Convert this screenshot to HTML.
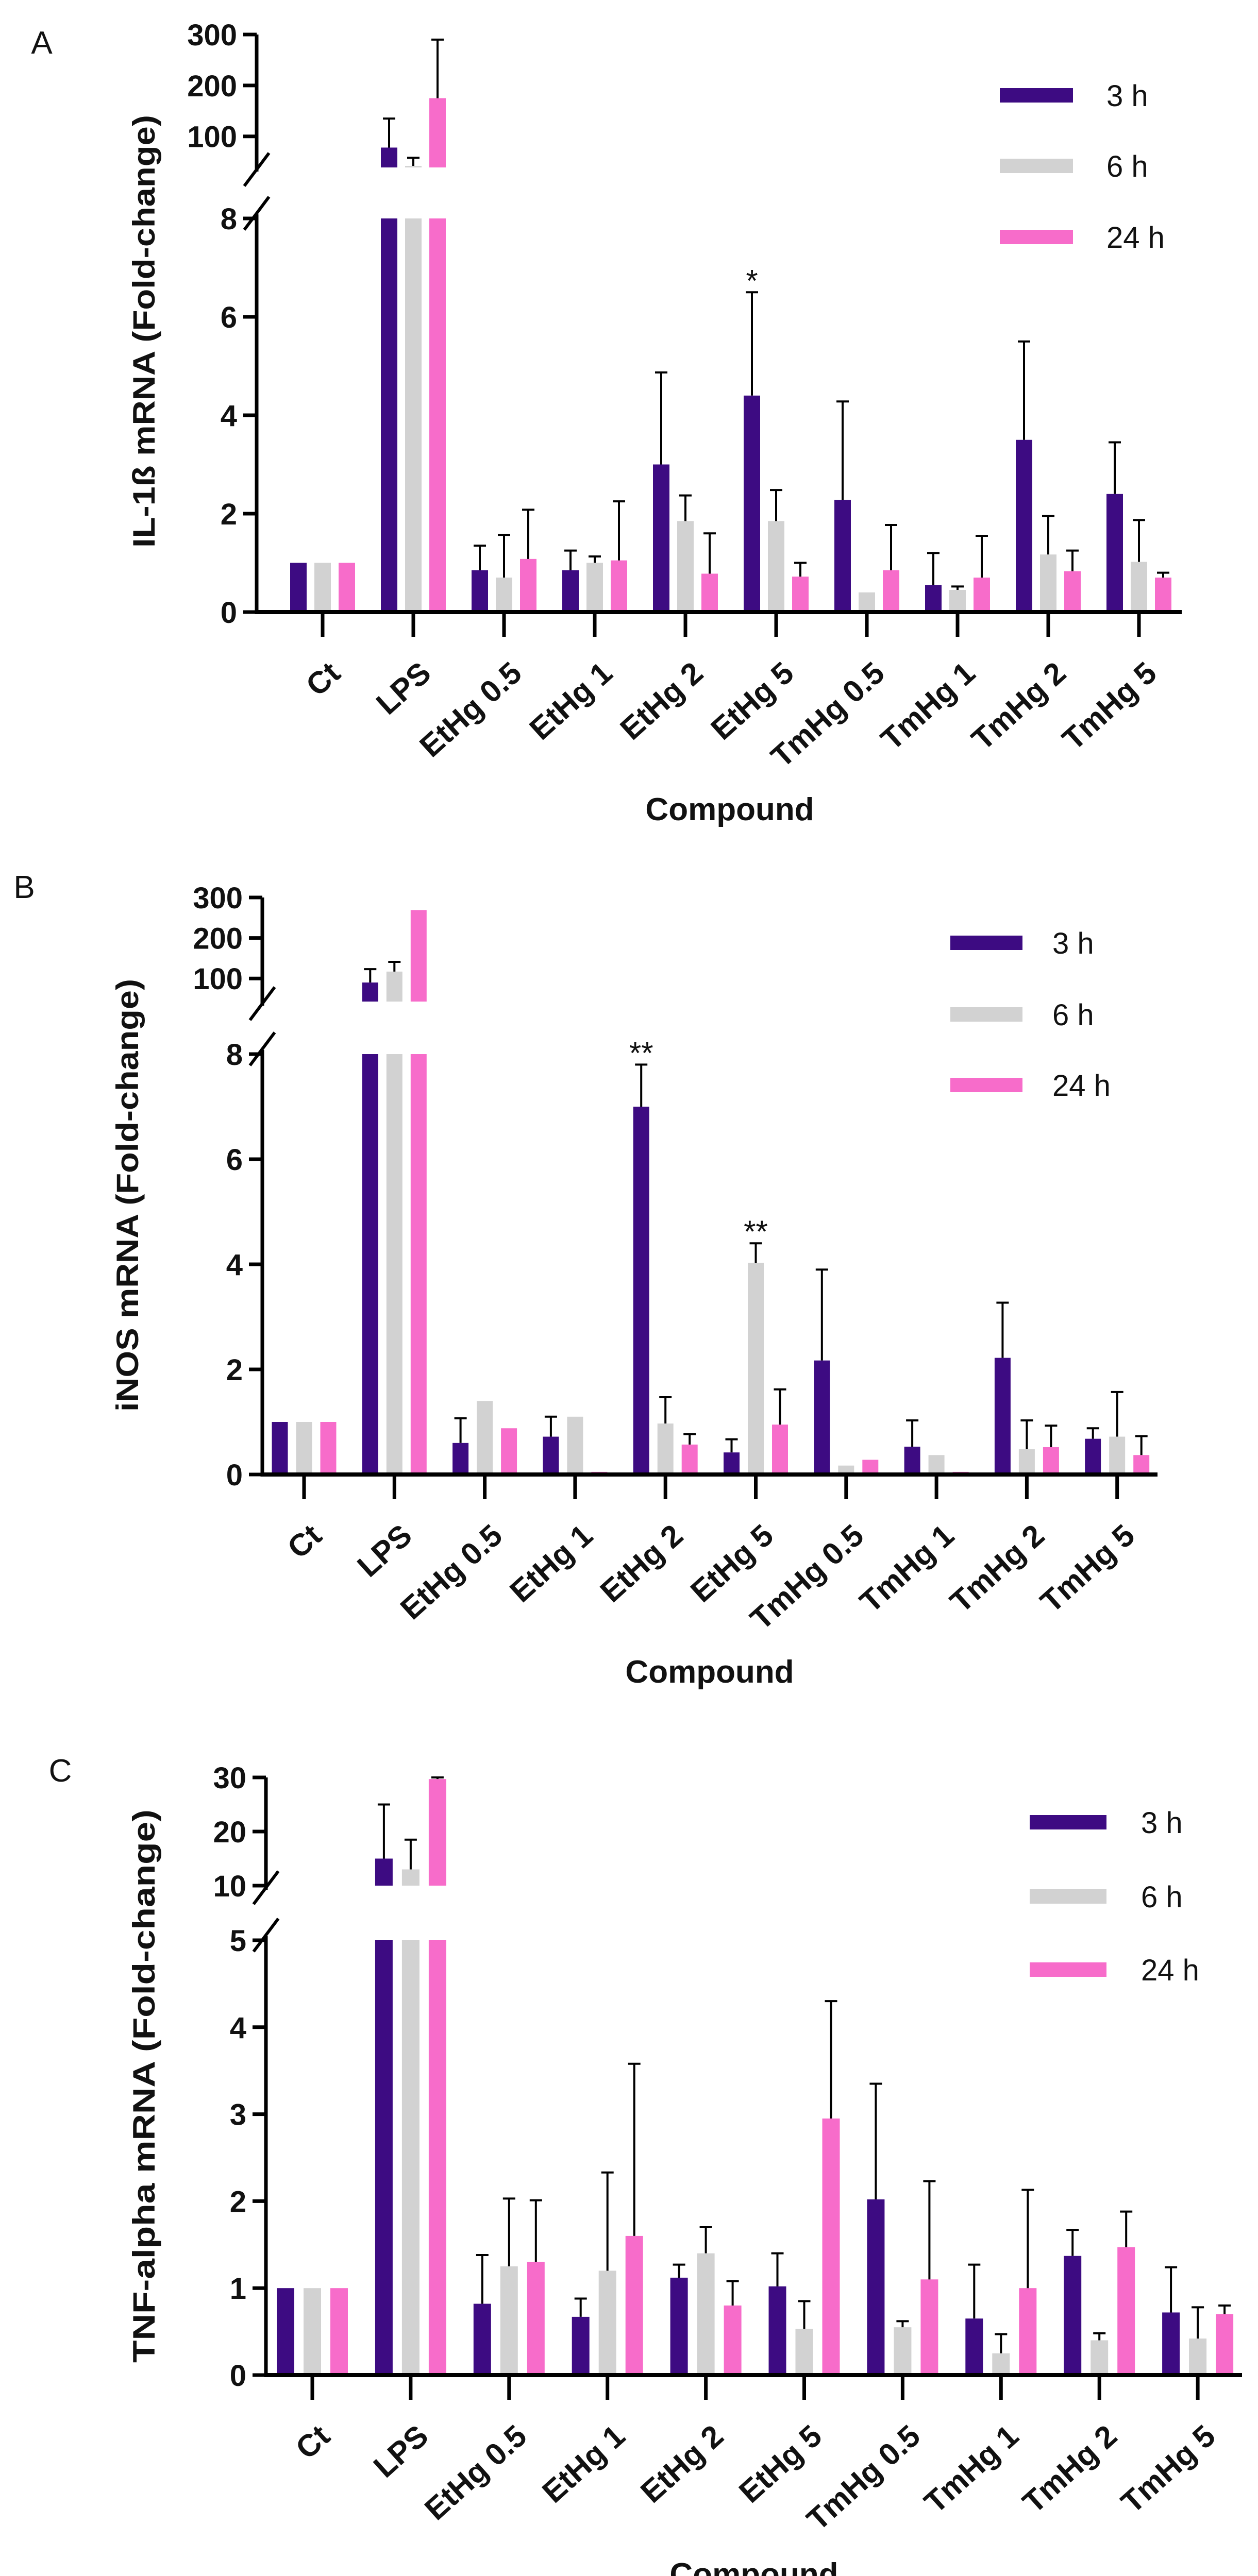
<!DOCTYPE html>
<html><head><meta charset="utf-8">
<style>
html,body{margin:0;padding:0;background:#fff;width:2441px;height:5087px;overflow:hidden;}
svg{display:block;}
text{font-family:"Liberation Sans",Arial,sans-serif;}
</style></head>
<body>
<svg id="fig" xmlns="http://www.w3.org/2000/svg" width="2441" height="5087" viewBox="0 0 2441 5087">
<rect x="0" y="0" width="2441" height="5087" fill="#fff"/>
</svg>
<script>
const categories = ["Ct","LPS","EtHg 0.5","EtHg 1","EtHg 2","EtHg 5","TmHg 0.5","TmHg 1","TmHg 2","TmHg 5"];
const seriesNames = ["3 h","6 h","24 h"];
// Panel A: IL-1b
const a3h = [1, 78, 0.85, 0.85, 3.0, 4.4, 2.28, 0.55, 3.5, 2.4];
const a3hErr = [null, 135, 1.35, 1.25, 4.87, 6.5, 4.28, 1.2, 5.5, 3.45];
const a6h = [1, 42, 0.7, 1.0, 1.85, 1.85, 0.4, 0.45, 1.17, 1.02];
const a6hErr = [null, 58, 1.57, 1.13, 2.37, 2.48, null, 0.52, 1.95, 1.87];
const a24h = [1, 175, 1.08, 1.05, 0.78, 0.72, 0.85, 0.7, 0.83, 0.7];
const a24hErr = [null, 290, 2.08, 2.25, 1.6, 1.0, 1.77, 1.55, 1.25, 0.8];
const aLowTicks = [0,2,4,6,8];
const aUpTicks = [100,200,300];
// Panel B: iNOS
const b3h = [1, 90, 0.6, 0.72, 7.0, 0.42, 2.17, 0.53, 2.22, 0.68];
const b3hErr = [null, 123, 1.07, 1.1, 7.8, 0.67, 3.9, 1.03, 3.27, 0.88];
const b6h = [1, 117, 1.4, 1.1, 0.97, 4.03, 0.17, 0.37, 0.48, 0.72];
const b6hErr = [null, 141, null, null, 1.47, 4.4, null, null, 1.03, 1.57];
const b24h = [1, 269, 0.88, 0.05, 0.57, 0.95, 0.28, 0.05, 0.52, 0.37];
const b24hErr = [null, null, null, null, 0.77, 1.62, null, null, 0.93, 0.73];
const bLowTicks = [0,2,4,6,8];
const bUpTicks = [100,200,300];
// Panel C: TNF-alpha
const c3h = [1, 15, 0.82, 0.67, 1.12, 1.02, 2.02, 0.65, 1.37, 0.72];
const c3hErr = [null, 25, 1.38, 0.88, 1.27, 1.4, 3.35, 1.27, 1.67, 1.24];
const c6h = [1, 13, 1.25, 1.2, 1.4, 0.53, 0.55, 0.25, 0.4, 0.42];
const c6hErr = [null, 18.5, 2.03, 2.33, 1.7, 0.85, 0.62, 0.47, 0.48, 0.78];
const c24h = [1, 29.7, 1.3, 1.6, 0.8, 2.95, 1.1, 1.0, 1.47, 0.7];
const c24hErr = [null, 30, 2.01, 3.58, 1.08, 4.3, 2.23, 2.13, 1.88, 0.8];
const cLowTicks = [0,1,2,3,4,5];
const cUpTicks = [10,20,30];
// significance annotations: [categoryIndex, seriesIndex, label]
const aStars = [[5,0,"*"]];
const bStars = [[4,0,"**"],[5,1,"**"]];
const cStars = [];

const colors = ["#3d0b82","#d2d2d2","#f76cca"];
const NS = "http://www.w3.org/2000/svg";
const svg = document.getElementById("fig");

function mk(tag, attrs, parent){
  const e = document.createElementNS(NS, tag);
  for (const k in attrs) e.setAttribute(k, attrs[k]);
  (parent||svg).appendChild(e);
  return e;
}

function drawPanel(p){
  const g = mk("g", {});
  
  
  const yLow = v => p.y0 - (v / p.lowMax) * (p.y0 - p.lowTopY);
  const yUp = v => p.upBottomY - (v - p.upMin) / (p.upMax - p.upMin) * (p.upBottomY - p.upTopY);
  const xCat = i => p.cat0 + i * p.step;

  const lt = mk("text", {x:p.letterX, y:p.letterY, "font-size":62, fill:"#111", "text-anchor":"middle"}, g);
  lt.textContent = p.letter;
  
  

  const series = [p.s0, p.s1, p.s2];
  const errs = [p.e0, p.e1, p.e2];
  for (let s = 0; s < 3; s++){
    for (let i = 0; i < categories.length; i++){
      const v = series[s][i];
      const cx = xCat(i) + (s - 1) * p.barOff;
      const x = cx - p.barW / 2;
      if (v > p.lowMax){
        const r1 = mk("rect", {x:x, y:p.lowTopY, width:p.barW, height:p.y0 - p.lowTopY, fill:colors[s]}, g);
        
        
        const top = yUp(v);
        const r2 = mk("rect", {x:x, y:top, width:p.barW, height:Math.max(0,p.upBottomY - top), fill:colors[s]}, g);
        
        
        const e = errs[s][i];
        if (e != null){
          const ey = yUp(e);
          const el = mk("path", {d:"M"+cx+" "+top+"V"+ey+"M"+(cx-12)+" "+ey+"H"+(cx+12), stroke:"#000", "stroke-width":4, fill:"none"}, g);
          
          
        }
      } else {
        const top = yLow(v);
        const r = mk("rect", {x:x, y:top, width:p.barW, height:p.y0 - top, fill:colors[s]}, g);
        
        
        const e = errs[s][i];
        if (e != null){
          const ey = yLow(e);
          const el = mk("path", {d:"M"+cx+" "+top+"V"+ey+"M"+(cx-12)+" "+ey+"H"+(cx+12), stroke:"#000", "stroke-width":4, fill:"none"}, g);
          
          
        }
      }
    }
  }

  p.stars.forEach(st => {
    const [i, s, lab] = st;
    const cx = xCat(i) + (s - 1) * p.barOff;
    const e = errs[s][i] != null ? errs[s][i] : series[s][i];
    const t = mk("text", {x:cx, y:yLow(e) - 2, "font-size":60, fill:"#111", "text-anchor":"middle"}, g);
    t.textContent = lab;
    
    
  });

  const ax = mk("path", {d:"M"+p.axisX+" "+p.y0+"H"+p.xEnd, stroke:"#000", "stroke-width":8, fill:"none"}, g);
  
  
  const yl = mk("path", {d:"M"+p.axisX+" "+(p.y0+4)+"V"+(p.lowTopY-8), stroke:"#000", "stroke-width":7, fill:"none"}, g);
  
  
  const yu = mk("path", {d:"M"+p.axisX+" "+(p.upTopY)+"V"+(p.upBottomY+8), stroke:"#000", "stroke-width":7, fill:"none"}, g);
  
  
  [p.upBottomY+4, p.lowTopY-10].forEach(by => {
    const sl = mk("path", {d:"M"+(p.axisX-24)+" "+(by+32)+"L"+(p.axisX+24)+" "+(by-32), stroke:"#000", "stroke-width":6, fill:"none"}, g);
    
    
  });

  p.lowTicks.forEach(v => {
    const y = yLow(v);
    const tk = mk("path", {d:"M"+(p.axisX-26)+" "+y+"H"+p.axisX, stroke:"#000", "stroke-width":7}, g);
    
    
    const t = mk("text", {x:p.axisX-38, y:y+21, "font-size":58, "font-weight":"bold", fill:"#111", "text-anchor":"end"}, g);
    t.textContent = v;
    
    
  });
  p.upTicks.forEach(v => {
    const y = yUp(v);
    const tk = mk("path", {d:"M"+(p.axisX-26)+" "+y+"H"+p.axisX, stroke:"#000", "stroke-width":7}, g);
    
    
    const t = mk("text", {x:p.axisX-38, y:y+21, "font-size":58, "font-weight":"bold", fill:"#111", "text-anchor":"end"}, g);
    t.textContent = v;
    
    
  });

  categories.forEach((c, i) => {
    const x = xCat(i);
    const tk = mk("path", {d:"M"+x+" "+p.y0+"V"+(p.y0+48), stroke:"#000", "stroke-width":7}, g);
    
    
    const lx = x + 38, ly = p.y0 + 124;
    const t = mk("text", {x:lx, y:ly, "font-size":60, "font-weight":"bold", fill:"#111", "text-anchor":"end", transform:"rotate(-42 "+lx+" "+ly+")"}, g);
    t.textContent = c;
    
    
  });

  const yt = mk("text", {x:p.titleX, y:p.titleY, "font-size":60, "font-weight":"bold", fill:"#111", "text-anchor":"middle", textLength:p.titleLen, lengthAdjust:"spacingAndGlyphs", transform:"rotate(-90 "+p.titleX+" "+p.titleY+")"}, g);
  yt.textContent = p.yTitle;
  
  
  const xt = mk("text", {x:p.compX, y:p.compY, "font-size":62, "font-weight":"bold", fill:"#111", "text-anchor":"middle"}, g);
  xt.textContent = "Compound";
  
  

  seriesNames.forEach((n, s) => {
    const cy = p.legYs[s];
    const sw = mk("rect", {x:p.legX, y:cy - 14, width:p.legW, height:28, fill:colors[s]}, g);
    
    
    const t = mk("text", {x:p.legTextX, y:cy + 21, "font-size":58, fill:"#111"}, g);
    t.textContent = n;
    
    
  });
}

drawPanel({id:"a", letter:"A", letterX:81, letterY:104, s0:a3h, s1:a6h, s2:a24h, e0:a3hErr, e1:a6hErr, e2:a24hErr,
  axisX:498, xEnd:2293, y0:1188, lowTopY:424, lowMax:8, upTopY:67, upBottomY:325, upMin:39, upMax:300,
  cat0:626, step:176, barOff:47, barW:32, lowTicks:aLowTicks, upTicks:aUpTicks, stars:aStars,
  titleX:300, titleY:643, titleLen:840, yTitle:"IL-1ß mRNA (Fold-change)", compX:1416, compY:1592,
  legX:1940, legW:142, legYs:[185,322,460], legTextX:2147});

drawPanel({id:"b", letter:"B", letterX:47, letterY:1743, s0:b3h, s1:b6h, s2:b24h, e0:b3hErr, e1:b6hErr, e2:b24hErr,
  axisX:509, xEnd:2246, y0:2862, lowTopY:2046, lowMax:8, upTopY:1742, upBottomY:1944, upMin:43, upMax:300,
  cat0:590, step:175.3, barOff:47, barW:31, lowTicks:bLowTicks, upTicks:bUpTicks, stars:bStars,
  titleX:268, titleY:2320, titleLen:840, yTitle:"iNOS mRNA (Fold-change)", compX:1377, compY:3266,
  legX:1844, legW:140, legYs:[1830,1969,2106], legTextX:2042});

drawPanel({id:"c", letter:"C", letterX:117, letterY:3458, s0:c3h, s1:c6h, s2:c24h, e0:c3hErr, e1:c6hErr, e2:c24hErr,
  axisX:516, xEnd:2410, y0:4610, lowTopY:3766, lowMax:5, upTopY:3450, upBottomY:3660, upMin:10, upMax:30,
  cat0:606, step:190.9, barOff:52, barW:34, lowTicks:cLowTicks, upTicks:cUpTicks, stars:cStars,
  titleX:300, titleY:4049, titleLen:1074, yTitle:"TNF-alpha mRNA (Fold-change)", compX:1463, compY:5018,
  legX:1998, legW:149, legYs:[3537,3681,3823], legTextX:2214});
</script>
</body></html>
